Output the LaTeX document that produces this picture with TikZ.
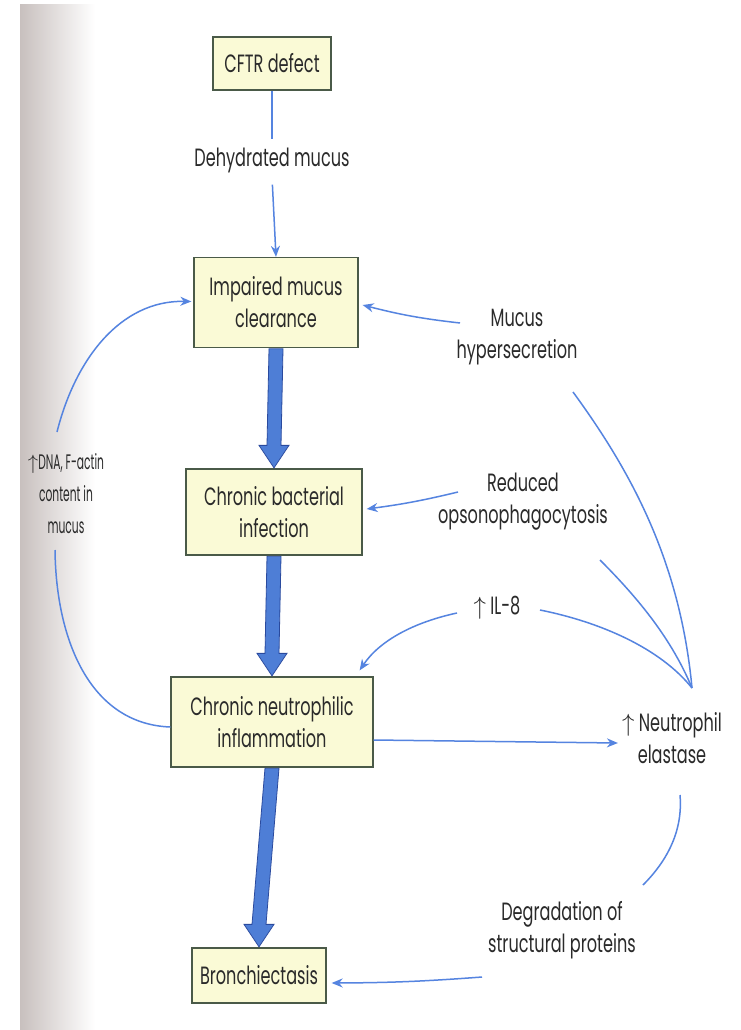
\documentclass[tikz,border=0pt]{standalone}
\usepackage{fontspec}
\setmainfont{Poppins}[FakeStretch=0.645]
\newfontfamily\narrowfont{Poppins}[FakeStretch=0.51]
\usetikzlibrary{arrows.meta,calc}
\definecolor{boxfill}{HTML}{FAFAD6}
\definecolor{boxedge}{HTML}{4A5A48}
\definecolor{arr}{HTML}{5584E0}
\definecolor{fatfill}{HTML}{4E7ED6}
\definecolor{fatedge}{HTML}{2A4A9E}
\definecolor{txt}{HTML}{2A2A2A}
\definecolor{gutter}{HTML}{C8C0BE}
\newcommand\fatarrow[2]{%
  \path[fatstyle] let \p1=(#1.south), \p2=(#2.north) in
    (\x1-7pt,\y1-0.6pt) -- (\x2-7pt,\y2+23pt) -- (\x2-15pt,\y2+23pt) -- (\x2,\y2+0.5pt)
    -- (\x2+15pt,\y2+23pt) -- (\x2+7pt,\y2+23pt) -- (\x1+7pt,\y1-0.6pt) -- cycle;}
\begin{document}
\begin{tikzpicture}[x=1pt,y=-1pt,
  box/.style={draw=boxedge, fill=boxfill, line width=1.3pt, align=center,
    text=txt, font=\fontsize{25}{32}\selectfont, inner sep=2pt},
  lbl/.style={align=center, text=txt, font=\fontsize{25}{32}\selectfont, inner sep=4pt},
  thinline/.style={draw=arr, line width=1.5pt},
  thinarrow/.style={thinline, -{Stealth[length=11pt,width=9pt]}},
  fatstyle/.style={fill=fatfill, draw=fatedge, line width=0.8pt, line join=miter},
]
\fill[white] (0,0) rectangle (740,1030);
\shade[left color=gutter, right color=white] (20,5) rectangle (95,1030);

% main boxes
\node[box, minimum width=118pt, minimum height=53pt] (cftr) at (272,63.5) {CFTR defect};
\node[box, minimum width=164pt, minimum height=90pt] (imp) at (276,302.5) {Impaired mucus\\clearance};
\node[box, minimum width=176pt, minimum height=86pt] (bac) at (274,512) {Chronic bacterial\\infection};
\node[box, minimum width=202pt, minimum height=90pt] (inf) at (272,722) {Chronic neutrophilic\\inflammation};
\node[box, minimum width=134pt, minimum height=55pt] (bro) at (259,975.5) {Bronchiectasis};

% labels
\node[lbl] (deh) at (272,160) {Dehydrated mucus};
\node[lbl] (muc) at (517,337) {Mucus\\hypersecretion};
\node[lbl] (ops) at (523,502) {Reduced\\opsonophagocytosis};
\node[lbl] (il8) at (497,608) {$\uparrow$ IL-8};
\node[lbl] (ela) at (672,738) {$\uparrow$ Neutrophil\\elastase};
\node[lbl] (deg) at (562,930) {Degradation of\\structural proteins};
\node[lbl, font=\fontsize{21}{32}\selectfont\narrowfont] (dna) at (66,494) {$\uparrow$DNA, F-actin\\content in\\mucus};
\coordinate (conv) at (692,688);

% thick arrows
\fatarrow{imp}{bac}
\fatarrow{bac}{inf}
\fatarrow{inf}{bro}

% thin connectors
\draw[thinline, shorten >=4pt] (cftr.south) -- (deh.north);
\draw[thinarrow, shorten <=8pt] (deh.south) -- (imp.north);
\draw[thinarrow] ([xshift=-57pt,yshift=14pt]muc.center) to[bend left=4] ([xshift=4pt,yshift=-2.5pt]imp.east);
\draw[thinarrow] ([xshift=-65pt,yshift=10pt]ops.center) to[bend left=3] ([xshift=4pt,yshift=3pt]bac.east);
\draw[thinarrow] ([xshift=-40pt,yshift=-5pt]il8.center) .. controls (415,622) and (380,640) .. ([xshift=-14pt,yshift=6pt]inf.north east);
\draw[thinarrow] ([yshift=-18pt]inf.east) -- ([yshift=-5pt]ela.west);
\draw[thinline] ([xshift=56pt,yshift=-55pt]muc.center) .. controls (630,470) and (680,560) .. (conv);
\draw[thinline] ([xshift=77pt,yshift=-58pt]ops.center) .. controls (640,600) and (672,640) .. (conv);
\draw[thinline] ([xshift=43pt,yshift=-2pt]il8.center) .. controls (600,622) and (660,648) .. (conv);
\draw[thinline] ([xshift=8pt,yshift=-57pt]ela.center) .. controls (683,830) and (668,860) .. ([xshift=81pt,yshift=45pt]deg.center);
\draw[thinarrow] ([xshift=-80pt,yshift=-47pt]deg.center) to[bend left=2] ([xshift=5pt,yshift=-7.5pt]bro.east);
\draw[thinarrow] ([xshift=-9pt,yshift=62pt]dna.center) .. controls (75,360) and (120,300) .. ([xshift=-2pt,yshift=1pt]imp.west);
\draw[thinline] ([xshift=-11pt,yshift=-56pt]dna.center) .. controls (56,640) and (90,724) .. ([yshift=-5pt]inf.west);
\end{tikzpicture}
\end{document}
